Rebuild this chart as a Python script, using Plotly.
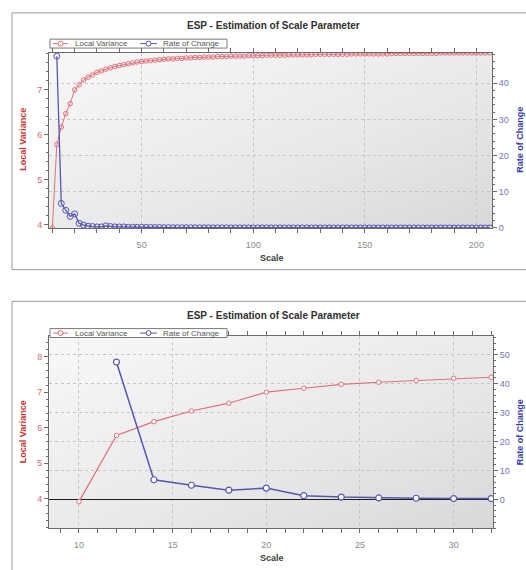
import base64
import plotly.graph_objects as go

# ---------------- data ----------------
scale = list(range(10, 208, 2))
local_variance = [
    3.92, 5.78, 6.17, 6.47, 6.69, 7.00, 7.11, 7.22, 7.28, 7.33,
    7.39, 7.42, 7.46, 7.49, 7.52, 7.54, 7.56, 7.58, 7.60, 7.62,
    7.63, 7.64, 7.65, 7.66, 7.67, 7.68, 7.69, 7.69, 7.70, 7.70,
    7.71, 7.71, 7.72, 7.72, 7.73, 7.73, 7.73, 7.74, 7.74, 7.74,
    7.75, 7.75, 7.75, 7.75, 7.76, 7.76, 7.76, 7.76, 7.77, 7.77,
    7.77, 7.77, 7.77, 7.78, 7.78, 7.78, 7.78, 7.78, 7.78, 7.79,
    7.79, 7.79, 7.79, 7.79, 7.79, 7.79, 7.79, 7.80, 7.80, 7.80,
    7.80, 7.80, 7.80, 7.80, 7.80, 7.80, 7.81, 7.81, 7.81, 7.81,
    7.81, 7.81, 7.81, 7.81, 7.81, 7.81, 7.81, 7.82, 7.82, 7.82,
    7.82, 7.82, 7.82, 7.82, 7.82, 7.82, 7.82, 7.82, 7.82,
]
rate_scale = scale[1:]
rate_of_change = [
    47.5, 6.8, 4.9, 3.2, 3.9, 1.3, 0.8, 0.5, 0.4, 0.3,
    0.3, 0.6, 0.4, 0.3, 0.3, 0.3, 0.2, 0.2, 0.2, 0.2,
    0.15, 0.15, 0.12, 0.12, 0.1, 0.1, 0.08, 0.08, 0.08, 0.07,
    0.07, 0.06, 0.06, 0.06, 0.05, 0.05, 0.05, 0.05, 0.04, 0.04,
    0.04, 0.04, 0.04, 0.03, 0.03, 0.03, 0.03, 0.03, 0.03, 0.03,
    0.03, 0.02, 0.02, 0.02, 0.02, 0.02, 0.02, 0.02, 0.02, 0.02,
    0.02, 0.02, 0.02, 0.02, 0.02, 0.02, 0.02, 0.02, 0.02, 0.02,
    0.01, 0.01, 0.01, 0.01, 0.01, 0.01, 0.01, 0.01, 0.01, 0.01,
    0.01, 0.01, 0.01, 0.01, 0.01, 0.01, 0.01, 0.01, 0.01, 0.01,
    0.01, 0.01, 0.01, 0.01, 0.01, 0.01, 0.01, 0.01,
]
zoom_max_scale = 32

title_text = "ESP - Estimation of Scale Parameter"
x_title = "Scale"
y_left_title = "Local Variance"
y_right_title = "Rate of Change"
right_ticks = [0, 10, 20, 30, 40, 50]

# ---------------- style ----------------
W, H = 526, 570
RED = "#e0707c"
BLUE = "#5656b4"
RED_TXT = "#c86a6a"
BLUE_TXT = "#7676b4"
RED_TITLE = "#cc3333"
BLUE_TITLE = "#3a3aa8"
AXIS = "#6a6a6a"
GRID = "#c6c6c6"
FONT = "Liberation Sans"

def px_x(p):
    return p / W

def px_y(p):
    return 1 - p / H

zoom_idx = [i for i, s in enumerate(scale) if s <= zoom_max_scale]
zoom_rate_idx = [i for i, s in enumerate(rate_scale) if s <= zoom_max_scale]

fig = go.Figure()

# top chart
fig.add_trace(go.Scatter(
    x=scale, y=local_variance, name=y_left_title, mode="lines+markers",
    line=dict(color=RED, width=1),
    marker=dict(symbol="circle-open", size=4.5, color=RED, line=dict(width=1)),
    xaxis="x", yaxis="y"))
fig.add_trace(go.Scatter(
    x=rate_scale, y=rate_of_change, name=y_right_title, mode="lines+markers",
    line=dict(color=BLUE, width=1.3),
    marker=dict(symbol="circle-open", size=6, color=BLUE, line=dict(width=1)),
    xaxis="x", yaxis="y2"))

# bottom chart
fig.add_trace(go.Scatter(
    x=[scale[i] for i in zoom_idx], y=[local_variance[i] for i in zoom_idx],
    name=y_left_title, mode="lines+markers",
    line=dict(color=RED, width=1.2),
    marker=dict(symbol="circle", size=4.5, color="white", line=dict(color=RED, width=1)),
    xaxis="x2", yaxis="y3"))
fig.add_trace(go.Scatter(
    x=[rate_scale[i] for i in zoom_rate_idx], y=[rate_of_change[i] for i in zoom_rate_idx],
    name=y_right_title, mode="lines+markers",
    line=dict(color=BLUE, width=1.5),
    marker=dict(symbol="circle", size=6, color="white", line=dict(color=BLUE, width=1.2)),
    xaxis="x2", yaxis="y4"))

top_dom_x = [px_x(49), px_x(492)]
top_dom_y = [px_y(230), px_y(53)]
bot_dom_x = [px_x(49), px_x(493)]
bot_dom_y = [px_y(533), px_y(339)]

tickfont_x = dict(family=FONT, size=9, color="#8a8a8a")
tickfont_l = dict(family=FONT, size=9, color=RED_TXT)
tickfont_r = dict(family=FONT, size=9, color=BLUE_TXT)

common_axis = dict(showline=True, linecolor=AXIS, linewidth=1, ticks="outside",
                   ticklen=4, tickcolor=AXIS, zeroline=False)

fig.update_layout(
    width=W, height=H, margin=dict(l=0, r=0, t=0, b=0),
    paper_bgcolor="white", plot_bgcolor="rgba(0,0,0,0)",
    font=dict(family=FONT, size=9, color="#404040"),
    showlegend=False,
    xaxis=dict(domain=top_dom_x, anchor="y", range=[8.5, 207], dtick=50, tick0=0,
               showgrid=True, gridcolor=GRID, griddash="dot", mirror="allticks",
               tickfont=tickfont_x, ticklabelstandoff=4,
               minor=dict(dtick=10, ticks="outside", ticklen=2, tickcolor=AXIS, showgrid=False),
               **common_axis),
    yaxis=dict(domain=top_dom_y, anchor="x", range=[3.92, 7.83], dtick=1,
               showgrid=False, tickfont=tickfont_l,
               minor=dict(dtick=0.2, ticks="outside", ticklen=2, tickcolor=AXIS),
               **common_axis),
    yaxis2=dict(overlaying="y", side="right", anchor="x", range=[0, 48.5],
                tickmode="array", tickvals=right_ticks[:-1],
                showgrid=True, gridcolor=GRID, griddash="dot", tickfont=tickfont_r,
                minor=dict(dtick=2, ticks="outside", ticklen=2, tickcolor=AXIS),
                **common_axis),
    xaxis2=dict(domain=bot_dom_x, anchor="y3", range=[8.4, 32.1], dtick=5, tick0=0,
                showgrid=True, gridcolor=GRID, griddash="dot", mirror="allticks",
                tickfont=tickfont_x, ticklabelstandoff=4,
                minor=dict(dtick=1, ticks="outside", ticklen=2, tickcolor=AXIS, showgrid=False),
                **common_axis),
    yaxis3=dict(domain=bot_dom_y, anchor="x2", range=[3.17, 8.58],
                tickmode="array", tickvals=[4, 5, 6, 7, 8],
                showgrid=False, tickfont=tickfont_l,
                minor=dict(dtick=0.2, ticks="outside", ticklen=2, tickcolor=AXIS),
                **common_axis),
    yaxis4=dict(overlaying="y3", side="right", anchor="x2", range=[-10, 56.5],
                tickmode="array", tickvals=right_ticks,
                showgrid=True, gridcolor=GRID, griddash="dot", tickfont=tickfont_r,
                minor=dict(dtick=2, tick0=0, ticks="outside", ticklen=2, tickcolor=AXIS),
                showline=True, linecolor=AXIS, linewidth=1, ticks="outside",
                ticklen=4, tickcolor=AXIS,
                zeroline=True, zerolinecolor="#1e1e1e", zerolinewidth=1),
)

# gradient plot backgrounds
svg = ('<svg xmlns="http://www.w3.org/2000/svg" width="200" height="100" preserveAspectRatio="none">'
       '<defs><linearGradient id="g" x1="0" y1="0" x2="1" y2="1">'
       '<stop offset="0" stop-color="#f8f8f8"/><stop offset="0.6" stop-color="#e8e8e8"/>'
       '<stop offset="1" stop-color="#d8d8d8"/></linearGradient></defs>'
       '<rect width="200" height="100" fill="url(#g)"/></svg>')
src = "data:image/svg+xml;base64," + base64.b64encode(svg.encode()).decode()
for xr, yr in (("x domain", "y domain"), ("x2 domain", "y3 domain")):
    fig.add_layout_image(dict(source=src, xref=xr, yref=yr, x=0, y=1, sizex=1, sizey=1,
                              sizing="stretch", layer="below", xanchor="left", yanchor="top"))

# outer frames
fig.add_shape(type="rect", xref="paper", yref="paper", x0=px_x(12), x1=1.05,
              y0=px_y(272), y1=px_y(13), line=dict(color="#9a9a9a", width=1), layer="below")
fig.add_shape(type="rect", xref="paper", yref="paper", x0=px_x(12), x1=1.05,
              y0=-0.05, y1=px_y(304), line=dict(color="#9a9a9a", width=1), layer="below")

# hand-drawn compact legends (the reference's legend is a thin boxed strip)
def add_legend(yc):
    fig.add_shape(type="rect", xref="paper", yref="paper", x0=px_x(50), x1=px_x(227),
                  y0=px_y(yc + 4.5), y1=px_y(yc - 4.5), fillcolor="white",
                  line=dict(color="#7a7a7a", width=1))
    for (x0, x1, col, label, tx) in ((53, 68, RED, y_left_title, 73),
                                     (140, 157, BLUE, y_right_title, 161)):
        fig.add_shape(type="line", xref="paper", yref="paper", x0=px_x(x0), x1=px_x(x1),
                      y0=px_y(yc), y1=px_y(yc), line=dict(color=col, width=1))
        xc = (x0 + x1) / 2
        fig.add_shape(type="circle", xref="paper", yref="paper",
                      x0=px_x(xc - 2.5), x1=px_x(xc + 2.5), y0=px_y(yc + 2.5), y1=px_y(yc - 2.5),
                      fillcolor="white", line=dict(color=col, width=1))
        fig.add_annotation(text=label, xref="paper", yref="paper", x=px_x(tx), y=px_y(yc),
                           xanchor="left", yanchor="middle", showarrow=False,
                           font=dict(family=FONT, size=8, color="#555555"))

add_legend(44)
add_legend(336)

# titles and axis titles
for ty, sy, ly in ((26, 260, 141), (318, 563, 436)):
    fig.add_annotation(text="<b>%s</b>" % title_text, xref="paper", yref="paper",
                       x=px_x(273), y=px_y(ty), showarrow=False,
                       xanchor="center", yanchor="middle",
                       font=dict(family=FONT, size=10, color="#303030"))
    fig.add_annotation(text="<b>%s</b>" % x_title, xref="paper", yref="paper",
                       x=px_x(272), y=px_y(sy), showarrow=False,
                       xanchor="center", yanchor="middle",
                       font=dict(family=FONT, size=9, color="#404040"))
    fig.add_annotation(text="<b>%s</b>" % y_left_title, xref="paper", yref="paper",
                       x=px_x(23), y=px_y(ly), showarrow=False, textangle=-90,
                       xanchor="center", yanchor="middle",
                       font=dict(family=FONT, size=9, color=RED_TITLE))
    fig.add_annotation(text="<b>%s</b>" % y_right_title, xref="paper", yref="paper",
                       x=px_x(520), y=px_y(ly), showarrow=False, textangle=-90,
                       xanchor="center", yanchor="middle",
                       font=dict(family=FONT, size=9, color=BLUE_TITLE))

fig.write_html("out.html", config={"displayModeBar": False},
               post_script="document.body.style.margin='0';document.body.style.overflow='hidden';")
